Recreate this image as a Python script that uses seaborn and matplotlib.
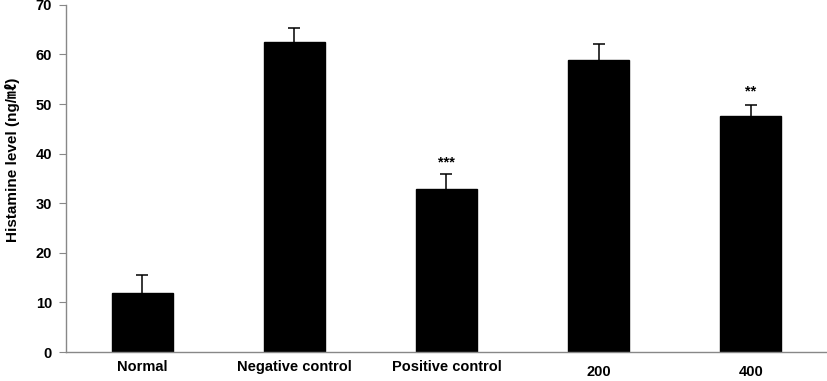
import matplotlib
matplotlib.use("Agg")
import matplotlib.pyplot as plt
import matplotlib.transforms as mtransforms
import seaborn as sns
import pandas as pd
import numpy as np

categories = ["Normal", "Negative control", "Positive control", "200", "400"]
means = [12.0, 62.5, 32.8, 58.8, 47.5]
errors = [3.5, 2.9, 3.1, 3.3, 2.3]
stars = ["", "", "***", "", "**"]
star_y = [None, None, 38.3, None, 52.5]

sns.set_style("white")
plt.rcParams['font.family'] = ['Liberation Sans', 'Noto Sans CJK KR', 'DejaVu Sans']
plt.rcParams['text.color'] = 'black'
plt.rcParams['axes.labelcolor'] = 'black'
plt.rcParams['xtick.labelcolor'] = 'black'
plt.rcParams['ytick.labelcolor'] = 'black'

fig = plt.figure(figsize=(8.27, 3.81), dpi=100)
ax = fig.add_axes([0.0798, 0.0761, 0.9202, 0.911])

df = pd.DataFrame({"cat": categories, "val": means})
sns.barplot(data=df, x="cat", y="val", color="black", width=0.4, ax=ax,
            saturation=1, errorbar=None)
for p in ax.patches:
    p.set_edgecolor("black")

x = np.arange(len(categories))
eb = ax.errorbar(x, means, yerr=[np.zeros(len(errors)), errors], fmt="none",
                 ecolor="black", elinewidth=1.1, capsize=4, capthick=1.1)
# hide the cap at the bar top (lower end of the one-sided error bar)
for cl in eb[1]:
    yd = np.asarray(cl.get_ydata(), dtype=float)
    if np.allclose(yd, means):
        cl.set_visible(False)

for xi, s, sy in zip(x, stars, star_y):
    if s:
        ax.text(xi, sy, s, ha="center", va="center", fontsize=10.5,
                fontweight="bold", color="black")

ax.set_xlim(-0.5, len(categories) - 0.5)
ax.set_ylim(0, 70)
ax.set_yticks(range(0, 71, 10))
ax.set_xticks(x)
ax.set_xticks(np.arange(-0.5, len(categories), 1.0), minor=True)
ax.set_xticklabels(categories, fontsize=10.5, fontweight="bold", color="black")
ax.tick_params(axis="x", which="major", length=0, pad=6)
ax.tick_params(axis="x", which="minor", length=4, direction="out", color="#888888")
ax.tick_params(axis="y", length=5, direction="out", color="#888888", labelsize=10.5,
               pad=5, left=True, labelcolor="black")
for lab in ax.get_yticklabels():
    lab.set_fontweight("bold")

# last two category labels sit a bit lower
for lab in ax.get_xticklabels()[3:]:
    lab.set_transform(lab.get_transform() + mtransforms.ScaledTranslation(0, -5/100, fig.dpi_scale_trans))

ax.set_xlabel("")
ax.set_ylabel("Histamine level (ng/㎖)", fontsize=11, fontweight="bold", color="black")
ax.yaxis.set_label_coords(-0.061, 0.553)

for side in ["top", "right"]:
    ax.spines[side].set_visible(False)
for side in ["left", "bottom"]:
    ax.spines[side].set_color("#888888")
    ax.spines[side].set_linewidth(1)

fig.savefig("out.png", dpi=100)
